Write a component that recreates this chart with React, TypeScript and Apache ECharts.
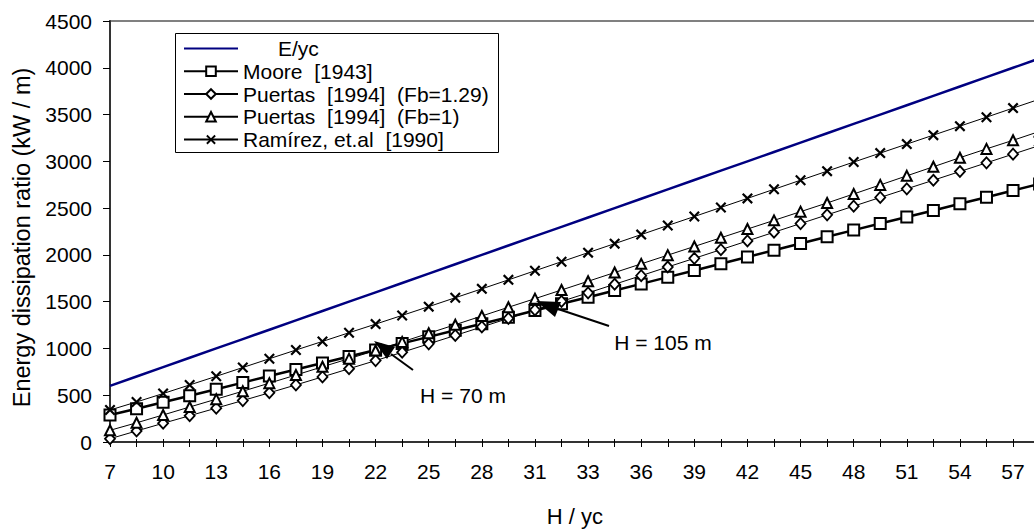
import React, { useEffect, useRef } from 'react';
import * as echarts from 'echarts';

const categories = ['7','8.5','10','11.5','13','14.5','16','17.5','19','20.5','22','23.5','25','26.5','28','29.5','31','32','33','34.5','36','37.5','39','40.5','42','43.5','45','46.5','48','49.5','51','52.5','54','55.5','57','58.5'];

const eyc = [600,700,800,900,1000,1100,1200,1300,1400,1500,1600,1700,1800,1900,2000,2100,2200,2300,2400,2500,2600,2700,2800,2900,3000,3100,3200,3300,3400,3500,3600,3700,3800,3900,4000,4100];
const moore = [288,356,425,495,564,635,705,775,845,914,984,1054,1124,1194,1264,1334,1405,1477,1548,1619,1690,1762,1833,1905,1977,2050,2122,2194,2265,2335,2405,2475,2546,2617,2688,2759];
const puertas129 = [35,118,200,281,362,443,526,610,696,783,870,959,1049,1139,1230,1321,1412,1503,1594,1686,1778,1871,1963,2056,2149,2242,2335,2428,2521,2614,2706,2798,2891,2984,3077,3170];
const puertas1 = [125,205,289,374,458,543,629,716,804,891,978,1070,1162,1254,1347,1440,1532,1625,1718,1811,1904,1997,2090,2183,2276,2369,2462,2555,2651,2748,2845,2942,3039,3133,3225,3320];
const ramirez = [342,428,518,610,702,796,890,983,1075,1168,1260,1353,1447,1542,1637,1733,1830,1927,2024,2120,2217,2314,2410,2507,2604,2701,2798,2895,2992,3088,3184,3280,3376,3472,3569,3665];

const yMin = 0;
const yMax = 4500;
const yInterval = 500;

const names = {
  eyc: 'E/yc',
  moore: 'Moore  [1943]',
  p129: 'Puertas  [1994]  (Fb=1.29)',
  p1: 'Puertas  [1994]  (Fb=1)',
  ram: 'Ramírez, et.al  [1990]',
};

const FONT = 'Liberation Sans, Arial, Helvetica, sans-serif';
const CROSS = 'path://M0,1.4 L1.4,0 L5,3.6 L8.6,0 L10,1.4 L6.4,5 L10,8.6 L8.6,10 L5,6.4 L1.4,10 L0,8.6 L3.6,5 Z';

export default function App() {
  const ref = useRef<HTMLDivElement>(null);
  useEffect(() => {
    if (!ref.current) return;
    const chart = echarts.init(ref.current, undefined, { renderer: 'svg' });
    const markerStyle = { color: '#fff', borderColor: '#000', borderWidth: 2 };
    chart.setOption({
      animation: false,
      backgroundColor: '#fff',
      textStyle: { fontFamily: FONT },
      grid: { left: 110, top: 21, width: 929.6, bottom: 90, show: true, borderColor: '#808080', borderWidth: 2, backgroundColor: 'transparent' },
      legend: {
        orient: 'vertical',
        left: 183,
        top: 37,
        padding: 0,
        itemWidth: 54,
        itemHeight: 12,
        itemGap: 0,
        selectedMode: false,
        textStyle: {
          fontFamily: FONT, fontSize: 21, lineHeight: 22.8, color: '#000',
          rich: { p: { fontFamily: FONT, fontSize: 21, lineHeight: 22.8, color: '#000', padding: [0, 0, 0, 35] } },
        },
        formatter: (n: string) => (n === names.eyc ? '{p|' + n + '}' : n),
        data: [
          { name: names.eyc, itemStyle: { opacity: 0 } },
          names.moore, names.p129, names.p1, names.ram,
        ],
      },
      xAxis: [
        {
          type: 'category',
          data: categories,
          boundaryGap: false,
          name: 'H / yc',
          nameLocation: 'middle',
          nameGap: 63,
          nameTextStyle: { fontFamily: FONT, fontSize: 22, color: '#000' },
          axisLine: { lineStyle: { color: '#333', width: 2 } },
          axisTick: { show: true, interval: 0, length: 5, lineStyle: { color: '#000', width: 1 } },
          axisLabel: { interval: 1, margin: 19, fontFamily: FONT, fontSize: 21, color: '#000' },
          splitLine: { show: false },
        },
        {
          type: 'category',
          data: categories,
          boundaryGap: false,
          position: 'bottom',
          axisLine: { show: false },
          axisTick: { show: true, inside: true, interval: 0, length: 3, lineStyle: { color: '#000', width: 1 } },
          axisLabel: { show: false },
          splitLine: { show: false },
        },
      ],
      yAxis: {
        type: 'value',
        min: yMin,
        max: yMax,
        interval: yInterval,
        name: 'Energy dissipation ratio (kW / m)',
        nameLocation: 'middle',
        nameRotate: 90,
        nameGap: 75,
        nameTextStyle: { fontFamily: FONT, fontSize: 23.5, color: '#000', padding: [0, 12, 0, 0] },
        axisLine: { show: true, lineStyle: { color: '#333', width: 2 } },
        axisTick: { show: true, length: 7, lineStyle: { color: '#000', width: 1 } },
        axisLabel: { margin: 18, fontFamily: FONT, fontSize: 21, color: '#000', formatter: (v: number) => String(v) },
        splitLine: { show: false },
      },
      series: [
        {
          name: names.eyc, type: 'line', data: eyc, symbol: 'circle', showSymbol: false, silent: true,
          lineStyle: { color: '#000080', width: 2.5 }, itemStyle: { color: '#000080' },
        },
        {
          name: names.moore, type: 'line', data: moore, symbol: 'rect', symbolSize: 11, silent: true,
          lineStyle: { color: '#000', width: 2.5 }, itemStyle: markerStyle,
        },
        {
          name: names.p129, type: 'line', data: puertas129, symbol: 'diamond', symbolSize: [10, 11], silent: true,
          lineStyle: { color: '#000', width: 1 }, itemStyle: { color: '#fff', borderColor: '#000', borderWidth: 1.8 },
        },
        {
          name: names.p1, type: 'line', data: puertas1, symbol: 'triangle', symbolSize: 10, silent: true,
          lineStyle: { color: '#000', width: 1 }, itemStyle: markerStyle,
        },
        {
          name: names.ram, type: 'line', data: ramirez, symbol: CROSS, symbolSize: 11, silent: true,
          lineStyle: { color: '#000', width: 1 }, itemStyle: { color: '#000', borderWidth: 0 },
        },
      ],
      graphic: [
        { type: 'rect', shape: { x: 175.5, y: 33.5, width: 323, height: 119 }, style: { fill: '#fff', stroke: '#000', lineWidth: 1 }, z: 3 },
        { type: 'line', shape: { x1: 413, y1: 370, x2: 391, y2: 354 }, style: { stroke: '#000', lineWidth: 2 }, z: 100 },
        { type: 'polygon', shape: { points: [[374, 341], [395, 347], [387, 359]] }, style: { fill: '#000' }, z: 100 },
        { type: 'line', shape: { x1: 609, y1: 326, x2: 558, y2: 309 }, style: { stroke: '#000', lineWidth: 2 }, z: 100 },
        { type: 'polygon', shape: { points: [[536, 301], [561, 302], [555, 317]] }, style: { fill: '#000' }, z: 100 },
        { type: 'text', x: 463, y: 395, style: { text: 'H = 70 m', font: '21px ' + FONT, fill: '#000', align: 'center', verticalAlign: 'middle' }, z: 100 },
        { type: 'text', x: 663, y: 342, style: { text: 'H = 105 m', font: '21px ' + FONT, fill: '#000', align: 'center', verticalAlign: 'middle' }, z: 100 },
      ],
    });
    return () => chart.dispose();
  }, []);
  return (
    <div style={{ position: 'absolute', left: 0, top: 0, width: 1034, height: 532, overflow: 'hidden' }}>
      <div ref={ref} style={{ width: 1060, height: 532 }} />
    </div>
  );
}
